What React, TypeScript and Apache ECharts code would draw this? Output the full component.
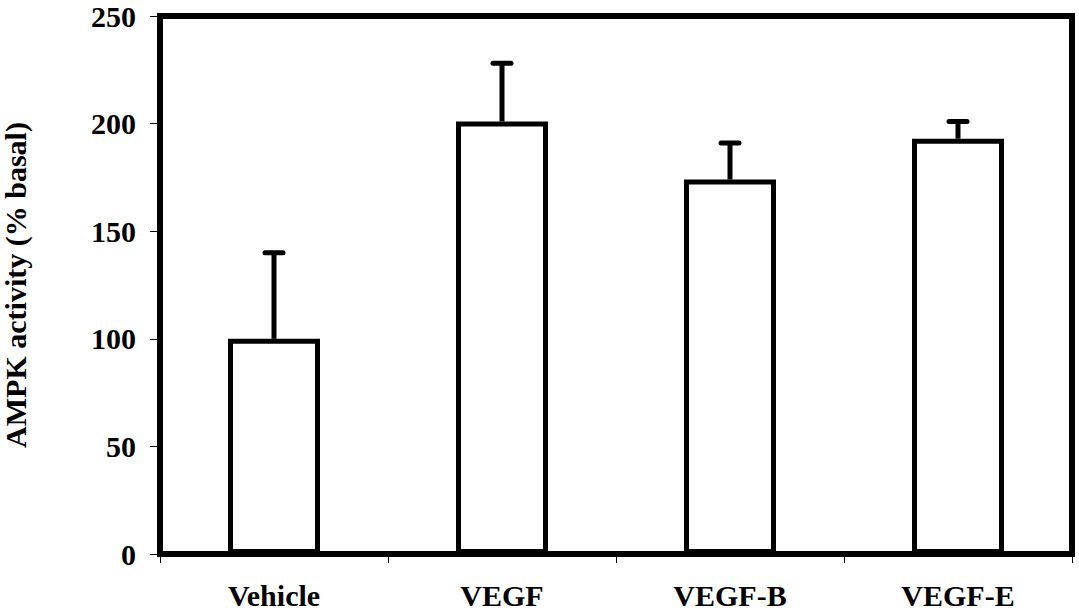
import React, { useEffect, useRef } from "react";
import * as echarts from "echarts";

const categories = ["Vehicle", "VEGF", "VEGF-B", "VEGF-E"];
const means = [100, 201, 174, 193];
const errors = [40, 27, 17, 8];
const yTicks = [0, 50, 100, 150, 200, 250];

const FONT = "'Liberation Serif', 'Times New Roman', serif";

export default function App() {
  const ref = useRef<HTMLDivElement>(null);
  useEffect(() => {
    if (!ref.current) return;
    const chart = echarts.init(ref.current, null, { renderer: "svg" });
    const errData = categories.map((c, i) => [i, means[i], means[i] + errors[i]]);
    chart.setOption({
      animation: false,
      backgroundColor: "#ffffff",
      grid: {
        left: 160,
        right: 7,
        top: 16,
        bottom: 60,
        containLabel: false,
        outerBoundsMode: "none",
        show: true,
        borderColor: "#000",
        borderWidth: 6,
        backgroundColor: "transparent",
      },
      xAxis: {
        type: "category",
        data: categories,
        axisLine: { show: true, lineStyle: { color: "#000", width: 6 } },
        axisTick: { show: true, alignWithLabel: false, length: 9, lineStyle: { color: "#000", width: 1 } },
        axisLabel: {
          color: "#000",
          fontFamily: FONT,
          fontWeight: "bold",
          fontSize: 30,
          margin: 26,
        },
        splitLine: { show: false },
      },
      yAxis: {
        type: "value",
        min: 0,
        max: 250,
        interval: 50,
        name: "AMPK activity (% basal)",
        nameLocation: "middle",
        nameGap: 130,
        nameRotate: 90,
        nameTextStyle: {
          color: "#000",
          fontFamily: FONT,
          fontWeight: "bold",
          fontSize: 30,
        },
        axisLine: { show: true, lineStyle: { color: "#000", width: 6 } },
        axisTick: { show: true, inside: false, length: 10, lineStyle: { color: "#000", width: 1 } },
        axisLabel: {
          color: "#000",
          fontFamily: FONT,
          fontWeight: "bold",
          fontSize: 30,
          margin: 24,
          formatter: (v: number) => (yTicks.includes(v) ? String(v) : ""),
        },
        splitLine: { show: false },
      },
      series: [
        {
          type: "bar",
          data: means,
          barWidth: 92,
          itemStyle: { color: "#fff", borderColor: "#000", borderWidth: 5 },
          z: 2,
        },
        {
          type: "custom",
          data: errData,
          z: 3,
          renderItem: (params: any, api: any) => {
            const x = api.value(0);
            const base = api.coord([x, api.value(1)]);
            const top = api.coord([x, api.value(2)]);
            const cap = 9;
            return {
              type: "group",
              children: [
                {
                  type: "line",
                  shape: { x1: base[0], y1: base[1], x2: top[0], y2: top[1] },
                  style: { stroke: "#000", lineWidth: 5 },
                },
                {
                  type: "line",
                  shape: { x1: top[0] - cap, y1: top[1], x2: top[0] + cap, y2: top[1] },
                  style: { stroke: "#000", lineWidth: 5, lineCap: "round" },
                },
              ],
            };
          },
        },
      ],
    });
    return () => chart.dispose();
  }, []);
  return (
    <div
      ref={ref}
      style={{ position: "fixed", left: 0, top: 0, width: 1079, height: 614, background: "#fff" }}
    />
  );
}
